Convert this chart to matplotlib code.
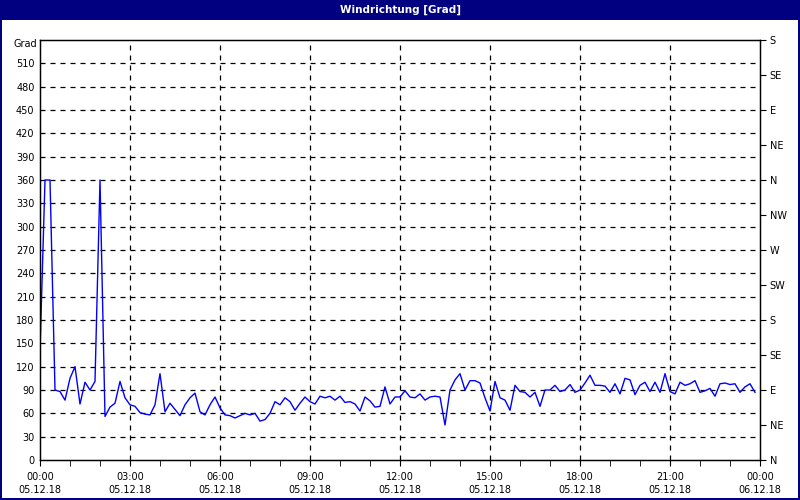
import numpy as np
import matplotlib
matplotlib.use("Agg")
import matplotlib.pyplot as plt
from matplotlib.patches import Rectangle
from matplotlib.transforms import blended_transform_factory

# wind direction, one value every 10 minutes on 05.12.18
wind_dir = [
    140, 360, 360, 90, 88, 77, 105, 120, 72, 100, 90, 101,
    360, 56, 68, 73, 101, 80, 71, 69, 61, 59, 58, 71,
    111, 62, 73, 65, 57, 71, 80, 86, 62, 58, 71, 81,
    67, 58, 57, 54, 57, 60, 58, 60, 50, 52, 60, 75,
    71, 80, 75, 64, 73, 81, 75, 72, 82, 80, 82, 77,
    82, 74, 75, 72, 63, 81, 76, 68, 69, 94, 72, 81,
    81, 89, 81, 80, 85, 77, 81, 82, 81, 45, 90, 103,
    111, 90, 102, 102, 99, 80, 63, 101, 80, 77, 64, 96,
    88, 87, 81, 87, 69, 90, 90, 96, 88, 90, 97, 87,
    90, 99, 109, 96, 96, 95, 87, 98, 85, 105, 103, 84,
    96, 100, 88, 100, 87, 111, 88, 85, 100, 96, 98, 102,
    87, 89, 92, 82, 98, 99, 97, 98, 87, 94, 98, 87,
]
hours = np.arange(len(wind_dir)) / 6.0

tick_hours = np.arange(0, 25, 3)
time_labels = ["00:00", "03:00", "06:00", "09:00", "12:00",
               "15:00", "18:00", "21:00", "00:00"]
date_labels = ["05.12.18"] * 8 + ["06.12.18"]
compass = ["N", "NE", "E", "SE", "S", "SW", "W", "NW",
           "N", "NE", "E", "SE", "S"]

NAVY = "#000080"

fig = plt.figure(figsize=(8, 5), dpi=100)
fig.patch.set_facecolor("white")

# window title bar and frame
fig.patches.append(Rectangle((0, 0.96), 1, 0.04, transform=fig.transFigure,
                             facecolor=NAVY, edgecolor="none", zorder=0))
for rect in [(0, 0, 0.0025, 1), (0.9975, 0, 0.0025, 1), (0, 0, 1, 0.004)]:
    fig.patches.append(Rectangle(rect[:2], rect[2], rect[3],
                                 transform=fig.transFigure,
                                 facecolor=NAVY, edgecolor="none", zorder=0))
fig.text(0.5, 0.981, "Windrichtung [Grad]", color="white", fontsize=7.5,
         fontweight="bold", ha="center", va="center")

ax = fig.add_axes([0.05, 0.08, 0.90, 0.84])
ax.plot(hours, wind_dir, color="#0000FF", lw=1)

ax.set_xlim(0, 24)
ax.set_ylim(0, 540)

# y axis
ax.set_yticks(np.arange(0, 540, 30))
ax.tick_params(axis="y", length=0, labelsize=7, pad=4)
fig.text(0.046, 0.912, "Grad", fontsize=7, ha="right", va="center")

# x axis: time as tick labels, date on a second row
ax.set_xticks(tick_hours)
ax.set_xticks(np.arange(0, 25, 1), minor=True)
ax.set_xticklabels(time_labels)
ax.tick_params(axis="x", which="both", length=4, labelsize=7, pad=5)
trans = blended_transform_factory(ax.transData, ax.transAxes)
for h, d in zip(tick_hours, date_labels):
    ax.text(h, -0.071, d, transform=trans, fontsize=7,
            ha="center", va="center", clip_on=False)

# grid
for y in range(30, 540, 30):
    ax.axhline(y, color="black", lw=0.9, ls=(0, (4, 4)), zorder=0)
for x in range(3, 24, 3):
    ax.axvline(x, color="black", lw=0.9, ls=(0, (4, 4)), zorder=0)

for sp in ax.spines.values():
    sp.set_linewidth(1)

# compass axis on the right
ax2 = ax.twinx()
ax2.set_ylim(0, 540)
ax2.set_yticks(np.arange(0, 541, 45))
ax2.set_yticklabels(compass)
ax2.tick_params(axis="y", length=4, labelsize=7, pad=3)

fig.savefig("out.png", dpi=100)
